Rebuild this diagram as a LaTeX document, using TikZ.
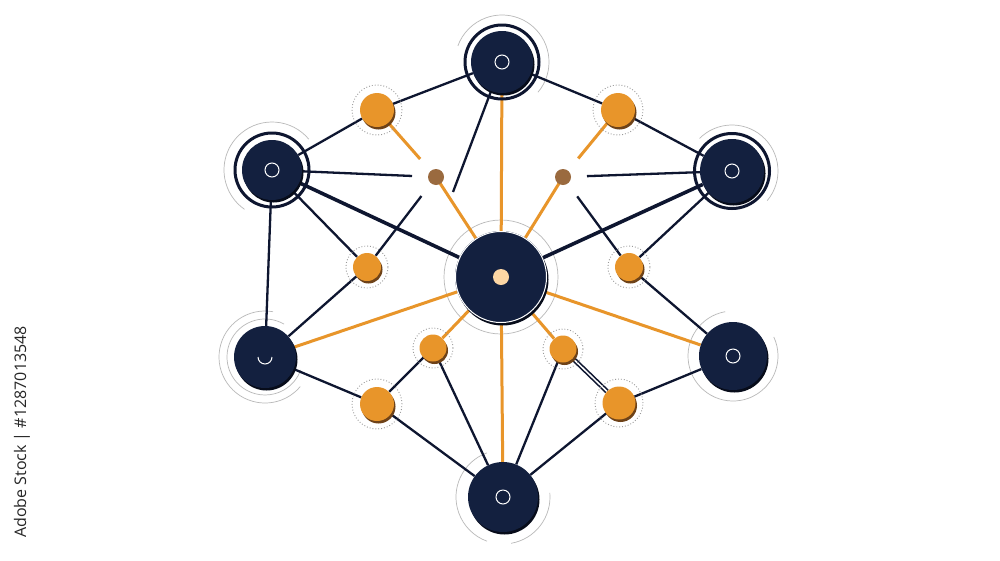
\documentclass[tikz,border=0pt]{standalone}
\usepackage{fontspec}
\newfontfamily\markfont{Open Sans}
\usetikzlibrary{calc,positioning}
\definecolor{navy}{HTML}{13203F}
\definecolor{navyline}{HTML}{0E1630}
\definecolor{navydark}{HTML}{070C1A}
\definecolor{amber}{HTML}{E8952A}
\definecolor{amberdark}{HTML}{6E4218}
\definecolor{cocoa}{HTML}{9A6A3F}
\definecolor{peach}{HTML}{FCD6A4}
\pgfdeclarelayer{background}
\pgfsetlayers{background,main}
\tikzset{
 hub/.style={circle, fill=navy, inner sep=0pt, minimum size=#1,
  preaction={fill=navydark, transform canvas={shift={(1.5pt,-2.5pt)}}}},
 leaf/.style={circle, fill=amber, inner sep=0pt, minimum size=#1,
  preaction={fill=amberdark, transform canvas={shift={(1.5pt,-2.5pt)}}}},
 seed/.style={circle, fill=cocoa, inner sep=0pt, minimum size=16pt, outer sep=16pt},
 link/.style={draw=navyline, line width=2.3pt},
 bold link/.style={draw=navyline, line width=3.6pt},
 feed/.style={draw=amber, line width=3pt},
 halo/.style={draw=gray!55, line width=0.7pt},
 ring/.style={draw=navyline, line width=3pt},
 dotring/.style={draw=gray!80, dotted, line width=0.9pt},
 eye/.style={draw=white, line width=1pt},
}

\begin{document}
\begin{tikzpicture}[x=1pt, y=-1pt]
 \useasboundingbox (0,0) rectangle (1000,560);

 % big nodes
 \node (top) [hub=62pt] at (502,62) {};
 \node (ul) [hub=60pt] at (272,170) {};
 \node (ur) [hub=64pt] at (732,171) {};
 \node (core) [hub=92pt] at (501,277) {};
 \node (ml) [hub=62pt] at (265,357) {};
 \node (mr) [hub=68pt] at (733,356) {};
 \node (bot) [hub=70pt] at (503,497) {};

 % small nodes
 \node (o1) [leaf=34pt] at (377,110) {};
 \node (o2) [leaf=34pt] at (618,110) {};
 \node (o3) [leaf=28pt] at (367,267) {};
 \node (o4) [leaf=28pt] at (629,267) {};
 \node (o5) [leaf=27pt] at (433,348) {};
 \node (o6) [leaf=27pt] at (563,349) {};
 \node (o7) [leaf=34pt] at (377,404) {};
 \node (o8) [leaf=33pt] at (619,403) {};
 \node (s1) [seed] at (436,177) {};
 \node (s2) [seed] at (563,177) {};
 \coordinate (tk) at (453,192);

 \begin{pgfonlayer}{background}
  \fill[white] (0,0) rectangle (1000,560);
  % grey arcs
  \draw[halo] ([shift={(-40:47pt)}]top.center) arc[start angle=-40, end angle=160, radius=47pt];
  \draw[halo] ([shift={(40:48pt)}]ul.center) arc[start angle=40, end angle=235, radius=48pt];
  \draw[halo] ([shift={(-40:46pt)}]ur.center) arc[start angle=-40, end angle=135, radius=46pt];
  \draw[halo] (core.center) circle (57pt);
  \draw[halo] ([shift={(60:38pt)}]ml.center) arc[start angle=60, end angle=340, radius=38pt];
  \draw[halo] ([shift={(80:46pt)}]ml.center) arc[start angle=80, end angle=320, radius=46pt];
  \draw[halo] ([shift={(100:45pt)}]mr.center) arc[start angle=100, end angle=385, radius=45pt];
  \draw[halo] ([shift={(110:47pt)}]bot.center) arc[start angle=110, end angle=250, radius=47pt];
  \draw[halo] ([shift={(280:47pt)}]bot.center) arc[start angle=280, end angle=365, radius=47pt];

  % orange spokes
  \draw[feed] (top) -- (core);
  \draw[feed] (core) -- (bot);
  \draw[feed] (core) -- (ml);
  \draw[feed] (core) -- (mr);
  \draw[feed] (core) -- (o5);
  \draw[feed] (core) -- (o6);
  \draw[feed] (s1.center) -- (core);
  \draw[feed] (s2.center) -- (core);
  \draw[feed] (o1) -- (s1);
  \draw[feed] (o2) -- (s2);

  % dark links
  \draw[bold link] (ul) -- (core);
  \draw[bold link] (ur) -- (core);
  \draw[link] (top) -- (o1);
  \draw[link] (top) -- (o2);
  \draw[link] (ul) -- (o1);
  \draw[link] (ur) -- (o2);
  \draw[link] (ul) -- (s1);
  \draw[link] (ur) -- (s2);
  \draw[link] (o3) -- (s1);
  \draw[link] (o4) -- (s2);
  \draw[link] (top) -- (tk);
  \draw[link] (ul) -- (o3);
  \draw[link] (ur) -- (o4);
  \draw[link] (ul) -- (ml);
  \draw[link] (o3) -- (ml);
  \draw[link] (o4) -- (mr);
  \draw[link] (ml) -- (o7);
  \draw[link] (o7) -- (o5);
  \draw[link] (o5) -- (bot);
  \draw[link] (o7) -- (bot);
  \draw[link] (mr) -- (o8);
  \draw[link, line width=1.6pt, double=white, double distance=1.5pt] (o6) -- (o8);
  \draw[link] (o6) -- (bot);
  \draw[link] (o8) -- (bot);
 \end{pgfonlayer}

 % outer rings
 \draw[ring] (top.center) circle (37pt);
 \draw[ring] (ul.center) circle (37pt);
 \draw[ring] (ur.center) circle (37.5pt);
 \draw[white, line width=1pt] (core.center) circle (45.5pt);
 \foreach \n/\r in {o1/25, o2/25, o3/21, o4/21, o5/20, o6/20, o7/25, o8/24}
  \draw[dotring] (\n.center) circle (\r pt);

 % centres
 \foreach \n in {top, ul, ur, mr, bot}
  \draw[eye] (\n.center) circle (7pt);
 \draw[eye] ([shift={(-7pt,0pt)}]ml.center) arc[start angle=180, end angle=360, radius=7pt];
 \fill[peach] (core.center) circle (8pt);

 \node (mark) [rotate=90, text=black!85, font=\markfont\fontsize{16}{18}\selectfont] at (22,432) {Adobe Stock | \#1287013548};
\end{tikzpicture}
\end{document}
